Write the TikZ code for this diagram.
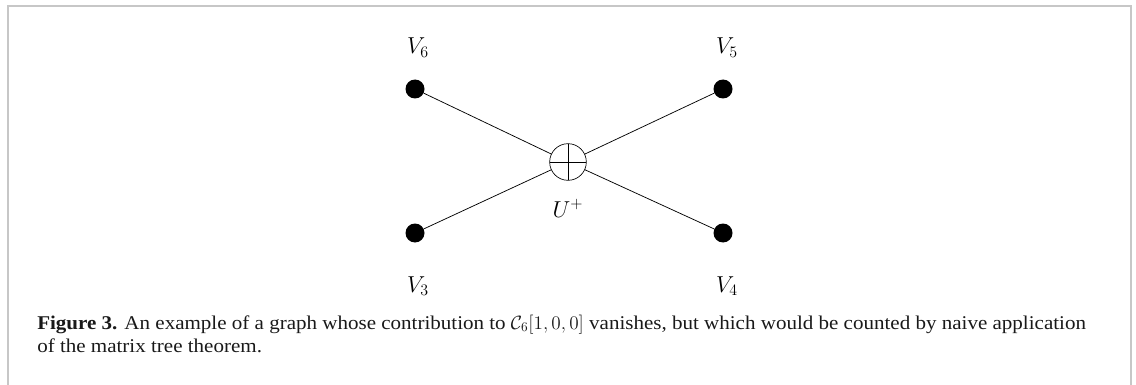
\documentclass[tikz,border=0pt]{standalone}
\usepackage{fontspec}
\setmainfont[FakeStretch=1.08]{Liberation Serif}
\usepackage{amsmath}
\begin{document}
\begin{tikzpicture}[x=0.75pt,y=-0.75pt,
  vdot/.style={circle,fill=black,inner sep=0pt,minimum size=14.25pt},
  hub/.style={circle,draw=black,line width=0.5pt,inner sep=0pt,minimum size=27.5pt,
    path picture={\draw[line width=0.5pt] (path picture bounding box.north) -- (path picture bounding box.south)
      (path picture bounding box.west) -- (path picture bounding box.east);}},
  edgeline/.style={line width=0.55pt},
  mlab/.style={anchor=base,inner sep=0pt,font=\fontsize{18.5}{22}\selectfont},
  captext/.style={anchor=base west,inner sep=0pt,text=black!90,font=\fontsize{14.6}{17}\selectfont},
  framebox/.style={draw=black!22,line width=1.6pt}]
\useasboundingbox (0,0) rectangle (1136,385);
\draw[framebox] (8,395) -- (8,6) -- (1131,6) -- (1131,395);
\node[hub] (u) at (568,162) {};
\node[vdot] (v6) at (415,89) {};
\node[vdot] (v5) at (723,89) {};
\node[vdot] (v3) at (415,233) {};
\node[vdot] (v4) at (723,233) {};
\draw[edgeline] (v6) -- (u);
\draw[edgeline] (v5) -- (u);
\draw[edgeline] (v3) -- (u);
\draw[edgeline] (v4) -- (u);
\node[mlab] (l6) at (418,54) {$V_6$};
\node[mlab] (l5) at (727,54) {$V_5$};
\node[mlab] (l3) at (418,292) {$V_3$};
\node[mlab] (l4) at (727,292) {$V_4$};
\node[mlab] (lu) at (568,217) {$U^+$};
\node[captext] (c1) at (37,329) {\textbf{Figure 3.} An example of a graph whose contribution to $\mathcal{C}_6[1,0,0]$ vanishes, but which would be counted by naive application};
\node[captext] (c2) at (37,352) {of the matrix tree theorem.};
\end{tikzpicture}
\end{document}
